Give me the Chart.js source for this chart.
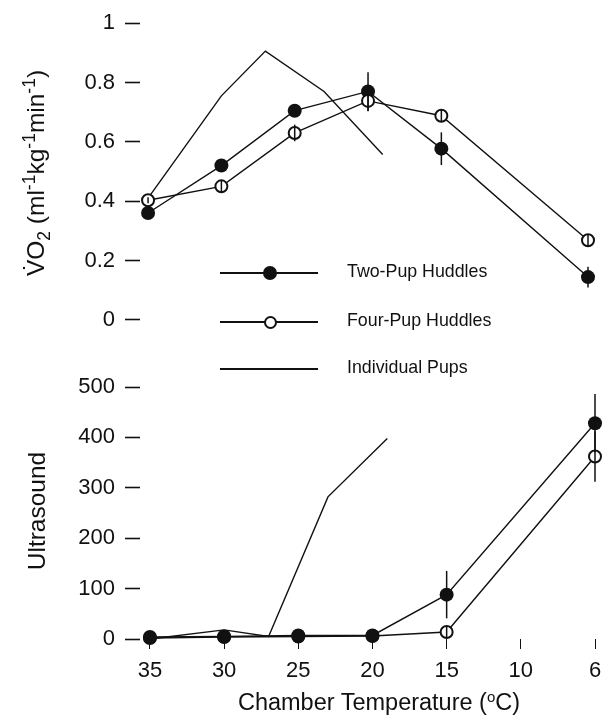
<!DOCTYPE html>
<html>
<head>
<meta charset="utf-8">
<script src="https://cdn.jsdelivr.net/npm/chart.js@4.4.1/dist/chart.umd.min.js"></script>
<style>
body { margin: 0; background: #fff; width: 613px; height: 721px; position: relative; overflow: hidden; font-family: "Liberation Sans", Arial, sans-serif; color: #111; }
canvas { position: absolute; left: 0; }
#canvasHaut { top: 0; }
#canvasBas { top: 330px; }
.titreY { position: absolute; white-space: nowrap; font-size: 24.5px; transform: translate(-50%, -50%) rotate(-90deg); }
.titreY sub, .titreY sup { font-size: 17.5px; }
.titreX { position: absolute; white-space: nowrap; font-size: 23.5px; left: 379px; top: 702px; transform: translate(-50%, -50%); }
.titreX sup { font-size: 15px; }
.leg { position: absolute; left: 0; width: 613px; height: 0; }
.leg .ligne { position: absolute; left: 220px; width: 98px; top: -0.75px; height: 1.5px; background: #111; }
.leg .plein { position: absolute; left: 263px; top: -7px; width: 14px; height: 14px; border-radius: 50%; background: #111; }
.leg .vide { position: absolute; left: 263.5px; top: -6.5px; width: 9px; height: 9px; border-radius: 50%; background: #fff; border: 2px solid #111; }
.leg .texte { position: absolute; left: 347px; top: -2px; transform: translateY(-50%); font-size: 17.8px; white-space: nowrap; }
</style>
</head>
<body>
<canvas id="canvasHaut" width="613" height="343"></canvas>
<canvas id="canvasBas" width="613" height="391"></canvas>

<div class="titreY" style="left:37px; top:173px">V&#775;O<sub>2</sub> (ml<sup>-1</sup>kg<sup>-1</sup>min<sup>-1</sup>)</div>
<div class="titreY" style="left:37px; top:511px">Ultrasound</div>
<div class="titreX">Chamber Temperature (<sup>o</sup>C)</div>

<div class="leg" style="top:273px"><span class="ligne"></span><span class="plein"></span><span class="texte">Two-Pup Huddles</span></div>
<div class="leg" style="top:322px"><span class="ligne"></span><span class="vide"></span><span class="texte">Four-Pup Huddles</span></div>
<div class="leg" style="top:369px"><span class="ligne"></span><span class="texte">Individual Pups</span></div>

<script>
// temperatures des huddles ; le "6" est place un cran de 5 apres le 10 sur l'axe, donc a 5
const temperatures = [35, 30, 25, 20, 15, 6]
const positionsTemp = [35, 30, 25, 20, 15, 5]
const xTicks = [35, 30, 25, 20, 15, 10, 5]
const xTickLabels = ["35", "30", "25", "20", "15", "10", "6"]

const tempsIndividuels = [35, 30, 27, 23, 19]

// VO2
const twoPupVo2 = [0.36, 0.52, 0.705, 0.77, 0.577, 0.144]
const twoPupVo2Err = [0, 0, 0, 0.065, 0.055, 0.035]
const fourPupVo2 = [0.403, 0.45, 0.63, 0.738, 0.688, 0.268]
const fourPupVo2Err = [0.01, 0.02, 0.028, 0.035, 0.02, 0.02]
const individuelVo2 = [0.41, 0.755, 0.906, 0.77, 0.557]
const vo2Ticks = [0, 0.2, 0.4, 0.6, 0.8, 1]
const vo2TickLabels = ["0", "0.2", "0.4", "0.6", "0.8", "1"]

// ultrasons
const twoPupUs = [4, 5, 7, 7, 88, 428]
const twoPupUsErr = [0, 0, 0, 0, 47, 58]
const fourPupUs = [2, 4, 5, 6, 14, 362]
const fourPupUsErr = [0, 0, 0, 0, 10, 50]
const individuelUs = [0, 18, 5, 282, 398]
const usTicks = [0, 100, 200, 300, 400, 500]
const usTickLabels = ["0", "100", "200", "300", "400", "500"]

const noir = "#111"
const policeTicks = { family: "'Liberation Sans', Arial, sans-serif", size: 22 }

function points(xs, ys) {
    return xs.map((x, i) => ({ x: x, y: ys[i] }))
}

// barres d'erreur verticales
const pluginErreurs = {
    id: "erreurs",
    afterDatasetsDraw(chart) {
        let ctx = chart.ctx
        let echelleY = chart.scales.y
        chart.data.datasets.forEach((ds, i) => {
            if (!ds.erreurs) return
            let meta = chart.getDatasetMeta(i)
            ctx.save()
            ctx.strokeStyle = noir
            ctx.lineWidth = 1.5
            meta.data.forEach((pt, j) => {
                let err = ds.erreurs[j]
                if (!err) return
                let y = ds.data[j].y
                ctx.beginPath()
                ctx.moveTo(pt.x, echelleY.getPixelForValue(y + err))
                ctx.lineTo(pt.x, echelleY.getPixelForValue(y - err))
                ctx.stroke()
            })
            ctx.restore()
        })
    }
}

function datasetPlein(data, erreurs) {
    return {
        data: data, erreurs: erreurs,
        borderColor: noir, borderWidth: 1.4, tension: 0, clip: false,
        pointRadius: 7, pointBackgroundColor: noir, pointBorderWidth: 0, pointHoverRadius: 7
    }
}

function datasetVide(data, erreurs) {
    return {
        data: data, erreurs: erreurs,
        borderColor: noir, borderWidth: 1.4, tension: 0, clip: false,
        pointRadius: 6, pointBackgroundColor: "#fff", pointBorderColor: noir, pointBorderWidth: 2, pointHoverRadius: 6
    }
}

function datasetLigne(data) {
    return { data: data, borderColor: noir, borderWidth: 1.4, tension: 0, clip: false, pointRadius: 0 }
}

function axeY(min, max, valeurs, labels) {
    return {
        min: min, max: max,
        afterBuildTicks: (s) => { s.ticks = valeurs.map(v => ({ value: v })) },
        ticks: {
            color: noir, font: policeTicks, padding: 10,
            callback: (v) => labels[valeurs.indexOf(v)]
        },
        grid: { drawOnChartArea: false, drawTicks: true, tickLength: 15, tickColor: noir, tickWidth: 1.6 },
        border: { display: false },
        afterFit: (s) => { s.width = 140 }
    }
}

Chart.defaults.animation = false

new Chart(document.getElementById("canvasHaut"), {
    type: "line",
    data: {
        datasets: [
            datasetVide(points(positionsTemp, fourPupVo2), fourPupVo2Err),
            datasetPlein(points(positionsTemp, twoPupVo2), twoPupVo2Err),
            datasetLigne(points(tempsIndividuels, individuelVo2))
        ]
    },
    options: {
        responsive: false,
        layout: { padding: { top: 20, bottom: 0, right: 25, left: 0 } },
        plugins: { legend: { display: false }, tooltip: { enabled: false } },
        scales: {
            x: { type: "linear", reverse: true, min: 5, max: 35.55, display: false },
            y: axeY(0, 1, vo2Ticks, vo2TickLabels)
        }
    },
    plugins: [pluginErreurs]
})

new Chart(document.getElementById("canvasBas"), {
    type: "line",
    data: {
        datasets: [
            datasetPlein(points(positionsTemp, twoPupUs), twoPupUsErr),
            datasetVide(points(positionsTemp, fourPupUs), fourPupUsErr),
            datasetLigne(points(tempsIndividuels, individuelUs))
        ]
    },
    options: {
        responsive: false,
        layout: { padding: { top: 57, bottom: 0, right: 18, left: 0 } },
        plugins: { legend: { display: false }, tooltip: { enabled: false } },
        scales: {
            x: {
                type: "linear", reverse: true, min: 5, max: 35.67,
                afterBuildTicks: (s) => { s.ticks = xTicks.map(v => ({ value: v })) },
                ticks: {
                    color: noir, font: policeTicks, padding: 9, maxRotation: 0, autoSkip: false,
                    callback: (v) => xTickLabels[xTicks.indexOf(v)]
                },
                grid: { drawOnChartArea: false, drawTicks: true, tickLength: 10, tickColor: noir, tickWidth: 1 },
                border: { display: false },
                afterFit: (s) => { s.height = 82 }
            },
            y: axeY(0, 500, usTicks, usTickLabels)
        }
    },
    plugins: [pluginErreurs]
})
</script>
</body>
</html>
